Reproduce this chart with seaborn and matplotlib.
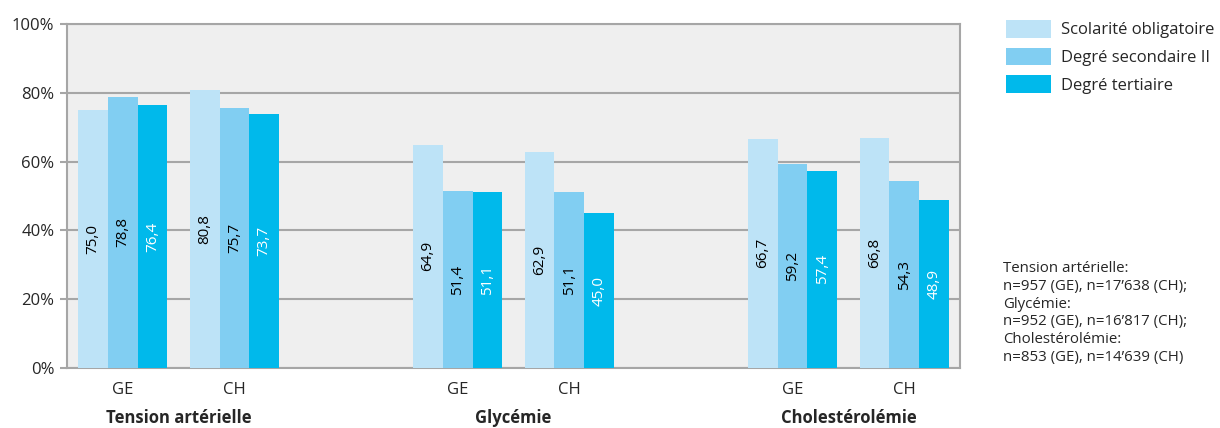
import pandas as pd
import seaborn as sns
import matplotlib.pyplot as plt
from matplotlib.patches import Patch

# Data (share in %)
groups = ['Tension artérielle', 'Glycémie', 'Cholestérolémie']
regions = ['GE', 'CH']
levels = ['Scolarité obligatoire', 'Degré secondaire II', 'Degré tertiaire']
colors = ['#bde3f7', '#81cef2', '#00b9eb']

scolarite = [75.0, 80.8, 64.9, 62.9, 66.7, 66.8]
secondaire = [78.8, 75.7, 51.4, 51.1, 59.2, 54.3]
tertiaire = [76.4, 73.7, 51.1, 45.0, 57.4, 48.9]

y_ticks = [0, 20, 40, 60, 80, 100]
note = ("Tension artérielle:\nn=957 (GE), n=17’638 (CH);\nGlycémie:\n"
        "n=952 (GE), n=16’817 (CH);\nCholestérolémie:\nn=853 (GE), n=14’639 (CH)")

# Long table, slots with an empty slot between the groups
slots = [f'{g}|{r}' for g in groups for r in regions]
order = []
for i, g in enumerate(groups):
    if i > 0:
        order.append(f'gap{i}')
    order += [f'{g}|{r}' for r in regions]

rows = []
for series, lvl in zip([scolarite, secondaire, tertiaire], levels):
    for s, v in zip(slots, series):
        rows.append({'slot': s, 'niveau': lvl, 'valeur': v})
df = pd.DataFrame(rows)

sns.set_style('white')
plt.rcParams['font.family'] = ['Open Sans', 'DejaVu Sans']

fig = plt.figure(figsize=(12.2, 4.28), dpi=100)
ax = fig.add_axes([67 / 1220, 60 / 428, (960 - 67) / 1220, (368 - 24) / 428])

sns.barplot(data=df, x='slot', y='valeur', hue='niveau', order=order,
            hue_order=levels, palette=colors, width=0.8, saturation=1,
            linewidth=0, legend=False, ax=ax, zorder=3)

for cont, col in zip(ax.containers, ['black', 'black', 'white']):
    ax.bar_label(cont, fmt=lambda v: f'{v:.1f}'.replace('.', ','),
                 label_type='center', rotation=90, color=col, fontsize=11)

ax.set_facecolor('#efefef')
ax.set_ylim(0, 100)
ax.set_yticks(y_ticks)
ax.set_yticklabels([f'{t}%' for t in y_ticks])
ax.yaxis.grid(True, color='#a6a6a6', linewidth=1.5, zorder=0)
ax.set_axisbelow(True)
for sp in ax.spines.values():
    sp.set_color('#a6a6a6')
    sp.set_linewidth(1.5)

ticklabels = [s.split('|')[1] if '|' in s else '' for s in order]
ax.set_xticks(range(len(order)))
ax.set_xticklabels(ticklabels)
ax.tick_params(axis='x', length=0, pad=10, labelsize=12)
ax.tick_params(axis='y', length=5, width=1.5, color='#a6a6a6', pad=4,
               labelsize=12, left=True)
ax.set_xlabel('')
ax.set_ylabel('')

for i, g in enumerate(groups):
    ax.text(3 * i + 0.5, -0.145, g, transform=ax.get_xaxis_transform(),
            ha='center', va='center', fontsize=12, fontweight='bold')

handles = [Patch(facecolor=c, edgecolor='none') for c in colors]
fig.legend(handles, levels, loc='upper left', bbox_to_anchor=(1006 / 1220, 1 - 20 / 428),
           frameon=False, fontsize=12, handlelength=2.7, handleheight=1.25,
           handletextpad=0.6, labelspacing=0.55, borderpad=0, borderaxespad=0)

fig.text(1003 / 1220, 1 - 261 / 428, note, ha='left', va='top', fontsize=10.8,
         linespacing=1.25)

fig.savefig('out.png', dpi=100)
